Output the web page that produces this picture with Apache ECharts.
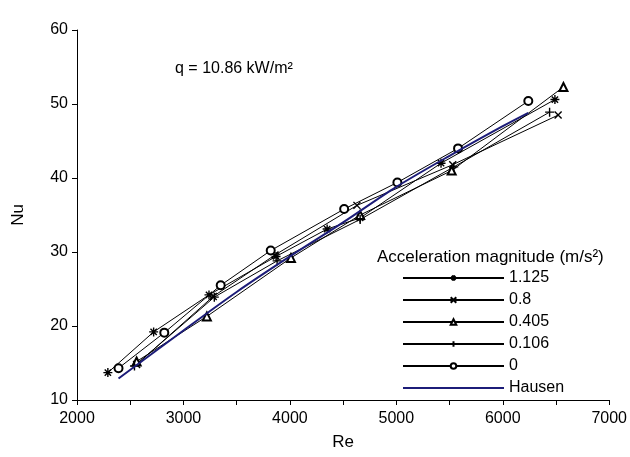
<!DOCTYPE html>
<html>
<head>
<meta charset="utf-8">
<script src="https://cdn.jsdelivr.net/npm/echarts@6/dist/echarts.min.js"></script>
<style>
  html, body { margin: 0; padding: 0; background: #fff; }
  #chart { width: 630px; height: 457px; }
</style>
</head>
<body>
<div id="chart"></div>
<script>
// Re, Nu pairs
const acc1125 = [[2290, 13.7], [2720, 19.2], [3240, 24.2], [3870, 29.4], [4350, 33.1], [4660, 34.6], [5420, 42.0], [6490, 50.6]];
const acc08 = [[2560, 14.8], [3280, 24.0], [3860, 29.6], [4630, 36.3], [5530, 41.8], [6520, 48.5]];
const acc0405 = [[2560, 15.2], [3220, 21.3], [4010, 29.2], [4660, 35.0], [5520, 41.0], [6570, 52.3]];
const acc0106 = [[2540, 14.6], [3290, 23.9], [3880, 28.8], [4660, 34.4], [5540, 41.5], [6440, 48.9]];
const acc0 = [[2390, 14.3], [2820, 19.1], [3350, 25.5], [3820, 30.2], [4510, 35.8], [5010, 39.4], [5580, 44.0], [6240, 50.4]];
const hausen = [[2390, 12.9], [3000, 19.4], [3500, 24.6], [4000, 29.4], [4500, 34.0], [5000, 38.8], [5500, 43.0], [6000, 47.0], [6240, 48.8]];

const seriesNames = ['1.125', '0.8', '0.405', '0.106', '0', 'Hausen'];
const font = 'Liberation Sans, Arial, sans-serif';

const asterisk = 'path://M5 0L5 10M0 5L10 5M1.5 1.5L8.5 8.5M1.5 8.5L8.5 1.5';
const cross = 'path://M0 0L10 10M0 10L10 0';
const plus = 'path://M5 0L5 10M0 5L10 5';

const mk = (name, data, symbol, size, stroked) => ({
  name: name, type: 'line', data: data,
  symbol: symbol, symbolSize: size,
  lineStyle: { color: '#000', width: 1 },
  itemStyle: stroked
    ? { color: '#000', borderColor: '#000', borderWidth: 1.4 }
    : { color: '#000', borderColor: '#000', borderWidth: 1 },
  emphasis: { disabled: true },
  z: 3
});

const chart = echarts.init(document.getElementById('chart'));
chart.setOption({
  animation: false,
  backgroundColor: '#fff',
  grid: { left: 77, right: 20, top: 30, bottom: 57 },
  xAxis: {
    type: 'value', min: 2000, max: 7000, interval: 1000,
    name: 'Re', nameLocation: 'middle', nameGap: 34,
    nameTextStyle: { color: '#000', fontSize: 17, fontFamily: font },
    axisLine: { lineStyle: { color: '#000', width: 1 } },
    axisTick: { show: true, length: 5, lineStyle: { color: '#000' } },
    minorTick: { show: true, splitNumber: 2, length: 5, lineStyle: { color: '#000' } },
    axisLabel: { color: '#000', fontSize: 16, fontFamily: font, margin: 11, formatter: (v) => String(v) },
    splitLine: { show: false }
  },
  yAxis: {
    type: 'value', min: 10, max: 60, interval: 10,
    name: 'Nu', nameLocation: 'middle', nameGap: 50,
    nameTextStyle: { color: '#000', fontSize: 17, fontFamily: font },
    axisLine: { show: true, lineStyle: { color: '#000', width: 1 } },
    axisTick: { show: true, length: 5, lineStyle: { color: '#000' } },
    axisLabel: { color: '#000', fontSize: 16, fontFamily: font, margin: 9 },
    splitLine: { show: false }
  },
  legend: {
    orient: 'vertical', left: 397, top: 265,
    itemWidth: 101, itemHeight: 7, itemGap: 6,
    data: seriesNames.map(n => n === 'Hausen' ? { name: n, itemStyle: { opacity: 0 } } : n),
    textStyle: { color: '#000', fontSize: 16, fontFamily: font, lineHeight: 16 },
    selectedMode: false
  },
  graphic: [
    { type: 'text', left: 175, top: 61, style: { text: 'q = 10.86 kW/m²', fill: '#000', fontSize: 16, fontFamily: font } },
    { type: 'text', left: 377, top: 249, style: { text: 'Acceleration magnitude (m/s²)', fill: '#000', fontSize: 17, fontFamily: font } }
  ],
  series: [
    mk('1.125', acc1125, asterisk, 9, true),
    mk('0.8', acc08, cross, 7, true),
    mk('0.405', acc0405, 'emptyTriangle', 8, false),
    mk('0.106', acc0106, plus, 9, true),
    mk('0', acc0, 'emptyCircle', 8, false),
    {
      name: 'Hausen', type: 'line', data: hausen, smooth: 0.3,
      symbol: 'none',
      lineStyle: { color: '#1c1c78', width: 2 },
      itemStyle: { color: '#1c1c78' },
      emphasis: { disabled: true },
      z: 4
    }
  ]
});
</script>
</body>
</html>
